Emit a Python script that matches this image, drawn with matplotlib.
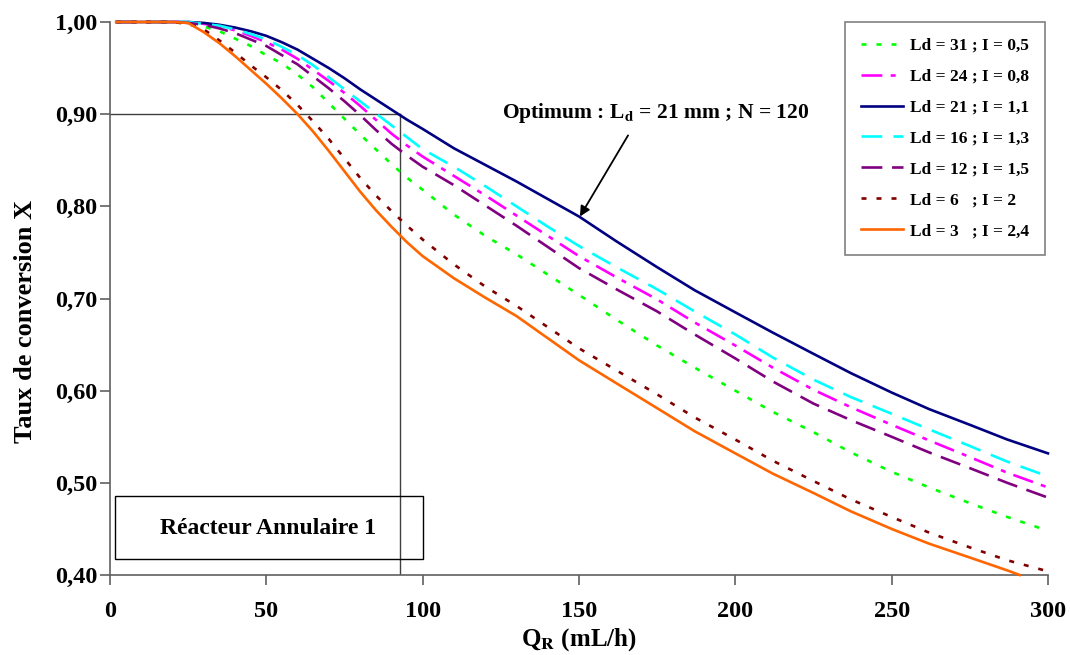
import matplotlib
matplotlib.use("Agg")
import matplotlib.pyplot as plt
from matplotlib.patches import Rectangle
from matplotlib.ticker import FuncFormatter, MultipleLocator

plt.rcParams["font.family"] = ["Liberation Serif", "DejaVu Serif"]
plt.rcParams["font.weight"] = "bold"
plt.rcParams["mathtext.fontset"] = "stix"
plt.rcParams["lines.scale_dashes"] = False

# debit QR (mL/h)
q = [2, 20, 25, 30, 35, 40, 45, 50, 55, 60, 65, 70, 75, 80, 85, 90, 95, 100, 110, 120,
     130, 140, 150, 162, 175, 187, 200, 212, 225, 237, 250, 262, 275, 287, 300]

x_ld31 = [1.000, 1.000, 0.998, 0.995, 0.990, 0.982, 0.974, 0.964, 0.955, 0.943, 0.929, 0.912,
          0.895, 0.878, 0.862, 0.846, 0.831, 0.818, 0.791, 0.768, 0.748, 0.726, 0.704, 0.677,
          0.649, 0.625, 0.600, 0.577, 0.555, 0.533, 0.512, 0.495, 0.478, 0.463, 0.448]
x_ld24 = [1.000, 1.000, 1.000, 0.998, 0.995, 0.991, 0.985, 0.978, 0.970, 0.960, 0.948, 0.936,
          0.923, 0.909, 0.894, 0.879, 0.866, 0.854, 0.833, 0.812, 0.790, 0.768, 0.746, 0.723,
          0.699, 0.674, 0.649, 0.625, 0.601, 0.582, 0.563, 0.546, 0.528, 0.511, 0.495]
x_ld21 = [1.000, 1.000, 1.000, 0.999, 0.997, 0.994, 0.990, 0.985, 0.978, 0.970, 0.960, 0.950,
          0.939, 0.927, 0.916, 0.905, 0.894, 0.884, 0.863, 0.845, 0.827, 0.808, 0.789, 0.762,
          0.734, 0.709, 0.685, 0.663, 0.640, 0.619, 0.598, 0.580, 0.563, 0.547, 0.532]
x_ld16 = [1.000, 1.000, 1.000, 0.998, 0.996, 0.992, 0.987, 0.981, 0.973, 0.964, 0.953, 0.940,
          0.927, 0.914, 0.901, 0.888, 0.875, 0.862, 0.843, 0.822, 0.800, 0.778, 0.757, 0.734,
          0.710, 0.686, 0.661, 0.636, 0.612, 0.593, 0.575, 0.558, 0.540, 0.523, 0.507]
x_ld12 = [1.000, 1.000, 0.999, 0.997, 0.993, 0.988, 0.981, 0.974, 0.964, 0.954, 0.941, 0.928,
          0.914, 0.899, 0.883, 0.868, 0.855, 0.843, 0.823, 0.801, 0.779, 0.756, 0.733, 0.710,
          0.686, 0.661, 0.635, 0.610, 0.586, 0.568, 0.550, 0.533, 0.516, 0.500, 0.484]
x_ld6 = [1.000, 1.000, 0.998, 0.992, 0.980, 0.967, 0.953, 0.940, 0.926, 0.910, 0.892, 0.873,
         0.852, 0.831, 0.812, 0.795, 0.779, 0.764, 0.737, 0.713, 0.692, 0.669, 0.646, 0.622,
         0.596, 0.571, 0.547, 0.524, 0.502, 0.482, 0.463, 0.446, 0.430, 0.416, 0.404]
q_ld3 = [2, 20, 25, 30, 35, 40, 45, 50, 55, 60, 65, 70, 75, 80, 85, 90, 95, 100, 110, 120,
         130, 140, 150, 162, 175, 187, 200, 212, 225, 237, 250, 262, 275, 287, 291]
x_ld3 = [1.000, 1.000, 0.999, 0.989, 0.977, 0.963, 0.948, 0.933, 0.917, 0.900, 0.881, 0.860,
         0.838, 0.816, 0.796, 0.778, 0.761, 0.746, 0.722, 0.701, 0.681, 0.657, 0.633, 0.608,
         0.581, 0.556, 0.532, 0.510, 0.489, 0.469, 0.450, 0.434, 0.419, 0.405, 0.400]

series = [
    ("Ld = 31 ; I = 0,5", q, x_ld31, "#00FF00", (0, (3.6, 7.2))),
    ("Ld = 24 ; I = 0,8", q, x_ld24, "#FF00FF", (0, (15, 6, 3.6, 6))),
    ("Ld = 21 ; I = 1,1", q, x_ld21, "#000080", "-"),
    ("Ld = 16 ; I = 1,3", q, x_ld16, "#00FFFF", (0, (15, 8))),
    ("Ld = 12 ; I = 1,5", q, x_ld12, "#800080", (0, (15, 7))),
    ("Ld = 6   ; I = 2", q, x_ld6, "#800000", (0, (3.6, 7.2))),
    ("Ld = 3   ; I = 2,4", q_ld3, x_ld3, "#FF6600", "-"),
]

q_opt = 92.7
x_opt = 0.90

fig = plt.figure(figsize=(10.7, 6.55), dpi=100)
ax = fig.add_axes([0.1028, 0.1221, 0.8766, 0.8443])

for label, xs, ys, color, ls in series:
    ax.plot(xs, ys, color=color, linestyle=ls, linewidth=1.9, label=label,
            clip_on=False, zorder=3)

# repere de l'optimum
ax.plot([0, q_opt], [x_opt, x_opt], color="#404040", linewidth=1.0, zorder=2)
ax.plot([q_opt, q_opt], [0.40, x_opt], color="#404040", linewidth=1.0, zorder=2)

ax.set_xlim(0, 300)
ax.set_ylim(0.40, 1.00)
ax.xaxis.set_major_locator(MultipleLocator(50))
ax.yaxis.set_major_locator(MultipleLocator(0.1))
ax.yaxis.set_major_formatter(FuncFormatter(lambda v, p: f"{v:.2f}".replace(".", ",")))

for side in ("top", "right"):
    ax.spines[side].set_visible(False)
for side in ("left", "bottom"):
    ax.spines[side].set_color("#606060")
    ax.spines[side].set_linewidth(1.2)
ax.tick_params(direction="out", length=7, width=1.2, color="#606060", labelsize=17.5)
ax.tick_params(axis="x", pad=12)
ax.tick_params(axis="y", pad=2)
for lab in ax.get_xticklabels() + ax.get_yticklabels():
    lab.set_fontweight("bold")

ax.set_ylabel("Taux de conversion X", fontsize=19, fontweight="bold")
ax.yaxis.set_label_coords(-0.078, 0.459)
ax.set_xlabel(r"Q$_\mathbf{R}$ (mL/h)", fontsize=18, fontweight="bold")
ax.xaxis.set_label_coords(0.5, -0.092)

ax.add_patch(Rectangle((1.6, 0.4176), 98.4, 0.0684, fill=False, edgecolor="black",
                       linewidth=1.0, zorder=4))
ax.text(50.5, 0.451, "Réacteur Annulaire 1", fontsize=17, fontweight="bold",
        ha="center", va="center", zorder=5)

ax.text(174.5, 0.901, r"Optimum : L$_\mathbf{d}$ = 21 mm ; N = 120", fontsize=15.5,
        fontweight="bold", ha="center", va="center")
ax.annotate("", xy=(150.3, 0.789), xytext=(165.7, 0.877),
            arrowprops=dict(arrowstyle="-|>", color="black", lw=1.3,
                            shrinkA=0, shrinkB=0, mutation_scale=15))

leg = ax.legend(loc="upper right", bbox_to_anchor=(0.997, 1.0), borderaxespad=0,
                fontsize=12.5, frameon=True, fancybox=False, handlelength=2.4,
                labelspacing=0.85, borderpad=0.9, handletextpad=0.45)
leg.get_frame().set_edgecolor("#606060")
leg.get_frame().set_linewidth(1.2)
for t in leg.get_texts():
    t.set_fontweight("bold")

fig.savefig("out.png", dpi=100)
